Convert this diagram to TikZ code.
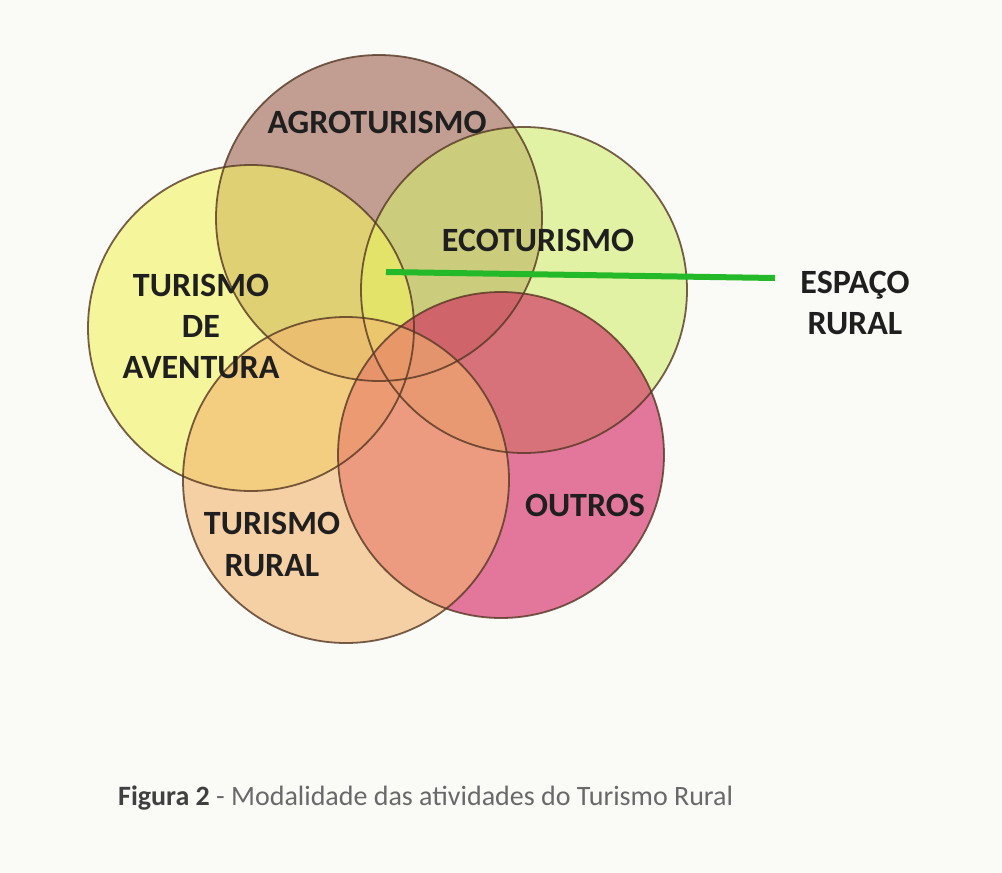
\documentclass[tikz,border=0pt]{standalone}
\usepackage{fontspec}
\setmainfont{Carlito}
\usepackage{tikz}
\usetikzlibrary{positioning}

\definecolor{fundo}{RGB}{250,250,247}
\definecolor{corAgro}{RGB}{155,95,80}
\definecolor{corEco}{RGB}{210,238,110}
\definecolor{corAventura}{RGB}{243,243,95}
\definecolor{corRural}{RGB}{243,180,110}
\definecolor{corOutros}{RGB}{210,30,95}
\definecolor{borda}{RGB}{85,55,35}
\definecolor{verde}{RGB}{35,185,40}
\definecolor{legenda}{RGB}{105,105,105}

\begin{document}
\begin{tikzpicture}[x=1pt,y=-1pt,
  bolha/.style={circle,minimum size=326pt,inner sep=0pt,fill opacity=0.6},
  contorno/.style={draw=borda,line width=1.8pt,draw opacity=0.8},
  rotulo/.style={font=\fontsize{34}{41}\selectfont\bfseries,align=center,text=black!88,inner sep=0pt},
  linha/.style={draw=verde,line width=6pt}]
\fill[fundo] (0,0) rectangle (1002,873);
\useasboundingbox (0,0) rectangle (1002,873);
\node[bolha,fill=corAgro] (agro) at (379,218) {};
\node[bolha,fill=corEco] (eco) at (524,290) {};
\node[bolha,fill=corAventura] (aventura) at (251,328) {};
\node[bolha,fill=corOutros] (outros) at (501,455) {};
\node[bolha,fill=corRural] (rural) at (346,480) {};
\foreach \c in {agro,eco,aventura,outros,rural}
  \draw[contorno] (\c) circle (163);
\node[rotulo] (tAgro) at (377,122) {AGROTURISMO};
\node[rotulo] (tEco) at (538,240) {ECOTURISMO};
\node[rotulo] (tAventura) at (201,326) {TURISMO\\DE\\AVENTURA};
\node[rotulo,font=\fontsize{34}{42}\selectfont\bfseries] (tRural) at (272,544) {TURISMO\\RURAL};
\node[rotulo] (tOutros) at (585,505) {OUTROS};
\node[rotulo] (espaco) at (855,303) {ESPAÇO\\RURAL};
\coordinate (linhaIni) at (386,272);
\coordinate (linhaFim) at (775,278);
\draw[linha] (linhaIni) -- (linhaFim);
\node[anchor=west,inner sep=0pt,font=\fontsize{28}{33}\selectfont,text=legenda] (legenda) at (118,798)
  {\textbf{\color{black!75}Figura 2} - Modalidade das atividades do Turismo Rural};
\end{tikzpicture}
\end{document}
